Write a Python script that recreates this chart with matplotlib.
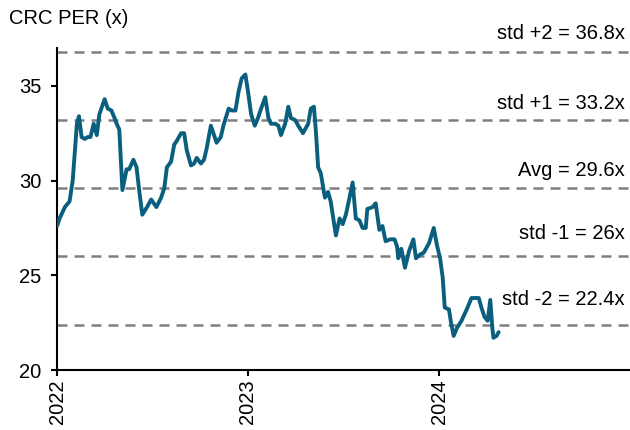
import pandas as pd
import matplotlib
matplotlib.use("Agg")
import matplotlib.pyplot as plt
import matplotlib.transforms as mtransforms

plt.rcParams['font.family'] = ['Liberation Sans', 'DejaVu Sans']

# PER series
dates = [
    "2022-01-01", "2022-01-06", "2022-01-16", "2022-01-25", "2022-01-31", "2022-02-08",
    "2022-02-12", "2022-02-17", "2022-02-23", "2022-03-01", "2022-03-06", "2022-03-12",
    "2022-03-18", "2022-03-23", "2022-04-02", "2022-04-08", "2022-04-15", "2022-04-21",
    "2022-04-25", "2022-04-30", "2022-05-06", "2022-05-14", "2022-05-19", "2022-05-27",
    "2022-06-02", "2022-06-07", "2022-06-13", "2022-06-22", "2022-06-30", "2022-07-10",
    "2022-07-19", "2022-07-25", "2022-07-30", "2022-08-07", "2022-08-13", "2022-08-18",
    "2022-08-26", "2022-09-01", "2022-09-06", "2022-09-14", "2022-09-20", "2022-09-25",
    "2022-10-03", "2022-10-09", "2022-10-14", "2022-10-22", "2022-10-28", "2022-11-02",
    "2022-11-10", "2022-11-15", "2022-11-25", "2022-12-01", "2022-12-08", "2022-12-14",
    "2022-12-20", "2022-12-27", "2023-01-01", "2023-01-07", "2023-01-14", "2023-01-20",
    "2023-01-26", "2023-02-03", "2023-02-09", "2023-02-14", "2023-02-22", "2023-02-28",
    "2023-03-05", "2023-03-13", "2023-03-19", "2023-03-24", "2023-04-01", "2023-04-07",
    "2023-04-16", "2023-04-26", "2023-05-01", "2023-05-07", "2023-05-11", "2023-05-15",
    "2023-05-20", "2023-05-28", "2023-06-03", "2023-06-08", "2023-06-18", "2023-06-25",
    "2023-07-01", "2023-07-07", "2023-07-14", "2023-07-20", "2023-07-26", "2023-08-02",
    "2023-08-08", "2023-08-14", "2023-08-17", "2023-08-27", "2023-09-02", "2023-09-09",
    "2023-09-15", "2023-09-21", "2023-09-30", "2023-10-08", "2023-10-13", "2023-10-15",
    "2023-10-21", "2023-10-28", "2023-11-05", "2023-11-13", "2023-11-18", "2023-11-26",
    "2023-12-03", "2023-12-13", "2023-12-22", "2023-12-28", "2024-01-03", "2024-01-08",
    "2024-01-12", "2024-01-20", "2024-01-24", "2024-01-29", "2024-02-04", "2024-02-13",
    "2024-02-23", "2024-03-03", "2024-03-09", "2024-03-17", "2024-03-22", "2024-03-28",
    "2024-04-03", "2024-04-08", "2024-04-12", "2024-04-14", "2024-04-20", "2024-04-24",
]
per = [
    27.6, 28.0, 28.6, 28.9, 30.0, 33.0,
    33.4, 32.3, 32.2, 32.3, 32.3, 33.0,
    32.4, 33.5, 34.3, 33.8, 33.7, 33.3,
    33.0, 32.7, 29.5, 30.6, 30.6, 31.1,
    30.7, 29.5, 28.2, 28.6, 29.0, 28.6,
    29.1, 29.6, 30.7, 31.0, 31.9, 32.1,
    32.5, 32.5, 31.6, 30.8, 30.9, 31.2,
    30.9, 31.1, 31.7, 32.9, 32.4, 32.0,
    32.3, 32.9, 33.8, 33.7, 33.7, 34.7,
    35.4, 35.6, 34.7, 33.5, 32.9, 33.3,
    33.8, 34.4, 33.3, 33.0, 33.0, 32.9,
    32.4, 33.0, 33.9, 33.3, 33.2, 32.9,
    32.5, 33.0, 33.8, 33.9, 32.5, 30.7,
    30.4, 29.1, 29.4, 28.9, 27.1, 28.0,
    27.7, 28.2, 29.1, 29.9, 28.0, 27.9,
    27.5, 27.5, 28.5, 28.6, 28.8, 27.4,
    27.6, 26.8, 26.9, 26.9, 26.5, 25.9,
    26.4, 25.4, 26.3, 26.9, 25.9, 26.1,
    26.2, 26.7, 27.5, 26.6, 25.9, 24.9,
    23.3, 23.2, 22.5, 21.8, 22.2, 22.6,
    23.2, 23.8, 23.8, 23.8, 23.3, 22.8,
    22.6, 23.7, 22.2, 21.7, 21.8, 22.0,
]

band_values = [36.8, 33.2, 29.6, 26.0, 22.4]
band_labels = ["std +2 = 36.8x", "std +1 = 33.2x", "Avg = 29.6x", "std -1 = 26x", "std -2 = 22.4x"]
label_gap_px = [9, 7, 8, 13, 16]

yticks = [20, 25, 30, 35]
xtick_years = ["2022", "2023", "2024"]

x = pd.to_datetime(dates)

fig = plt.figure(figsize=(6.3, 4.3), dpi=100)
ax = fig.add_axes([57 / 630, 1 - 370 / 430, 1 - 57 / 630, (370 - 48) / 430])

for v in band_values:
    ax.axhline(v, color="#808080", lw=1.8, dashes=(4, 2.8), zorder=1)

ax.plot(x, per, color="#0B5F7E", lw=2.8, solid_joinstyle="round", solid_capstyle="round", zorder=3)

trans = mtransforms.blended_transform_factory(ax.transAxes, ax.transData)
for v, lab, gap in zip(band_values, band_labels, label_gap_px):
    ax.annotate(lab, xy=(0.991, v), xycoords=trans, xytext=(0, gap * 0.72),
                textcoords="offset points", ha="right", va="bottom", fontsize=14.5)

ax.set_xlim(pd.Timestamp("2022-01-01"), pd.Timestamp("2024-12-31"))
ax.set_ylim(20, 37)
ax.set_yticks(yticks)
ax.set_xticks(pd.to_datetime([y + "-01-01" for y in xtick_years]))
ax.set_xticklabels(xtick_years, rotation=90)

for s in ["top", "right"]:
    ax.spines[s].set_visible(False)
for s in ["left", "bottom"]:
    ax.spines[s].set_linewidth(1.5)
ax.tick_params(axis="both", length=4, width=1.5, labelsize=14.5)
ax.tick_params(axis="y", pad=7)
ax.tick_params(axis="x", pad=3)

fig.text(9 / 630, 1 - 18 / 430, "CRC PER (x)", fontsize=14.5, va="center", ha="left")

fig.savefig("out.png", dpi=100)
